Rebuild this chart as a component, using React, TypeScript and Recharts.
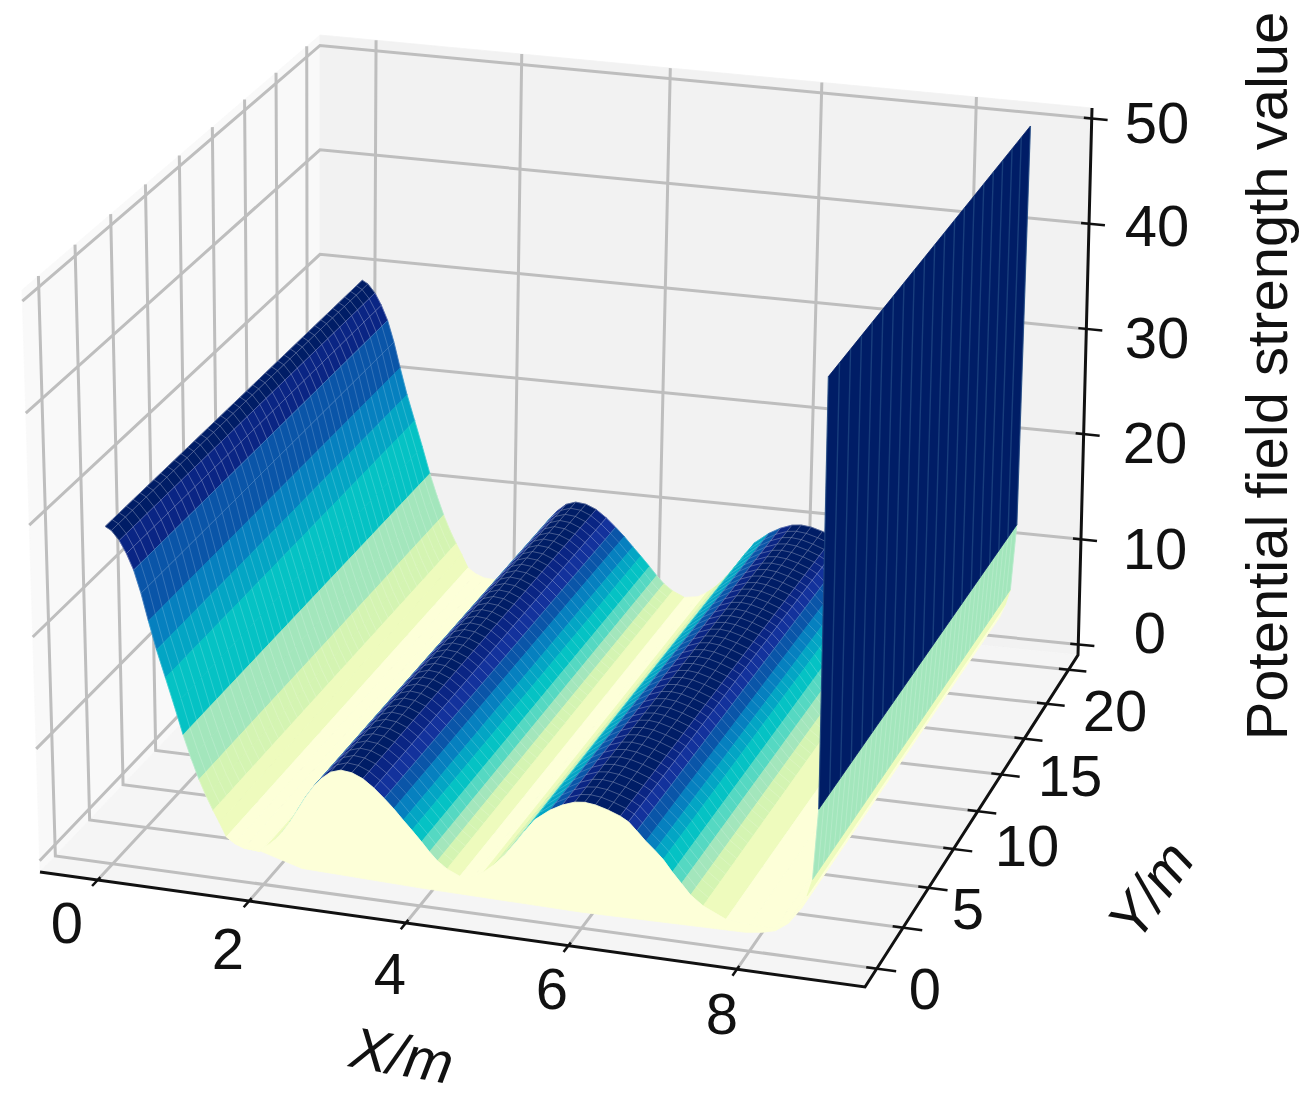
import { ComposedChart, Line, Scatter, XAxis, YAxis } from "recharts";

const WIDTH = 1310;
const HEIGHT = 1095;

const xGrid = [
  0, 0.08, 0.18, 0.27, 0.36, 0.45, 0.54, 0.64, 0.75, 0.86, 0.97, 1.07, 1.17, 1.26, 1.35, 1.43, 1.52, 1.63, 1.75,
  1.95, 2.05, 2.15, 2.25, 2.35, 2.45, 2.55, 2.65, 2.75, 2.87, 3.0,
  3.14, 3.28, 3.42, 3.55, 3.67, 3.79, 3.9, 4.02, 4.12, 4.22, 4.34, 4.5,
  4.68, 4.8, 4.92, 5.05, 5.18, 5.3, 5.42, 5.6, 5.75, 5.9, 6.02,
  6.15, 6.3, 6.45, 6.55, 6.65, 6.76, 6.87, 6.97, 7.08, 7.19, 7.3, 7.45, 7.72, 8.0, 8.3, 8.45, 8.6, 8.66, 8.72, 8.78, 8.82,
];
const zGrid = [
  29.2, 28.9, 28.1, 27, 25.6, 23.6, 21.2, 18.7, 16.3, 13.9, 11.4, 9.4, 7.6, 6.2, 5, 4, 2.8, 2.3, 2,
  1.9, 2.5, 3.1, 3.9, 4.9, 6.1, 7.3, 8.3, 9.1, 9.8, 10.1,
  10, 9.6, 8.9, 8.1, 7.3, 6.4, 5.6, 4.7, 3.9, 3.2, 2.6, 2.1,
  2.3, 2.8, 3.5, 4.5, 5.7, 6.9, 8, 9, 9.6, 10, 10.1,
  10, 9.7, 9.3, 8.9, 8.2, 7.4, 6.7, 6, 5, 4.1, 3.2, 2.4, 1.5, 1.3, 1.3, 2, 3.4, 4.5, 6, 12.2, 50,
];
const bandGrid = [
  11, 11, 10, 10, 8, 8, 7, 6, 5, 5, 3, 3, 2, 2, 1, 1, 0, 0, 0,
  0, 1, 2, 3, 4, 5, 6, 8, 10, 11, 11,
  11, 10, 9, 8, 7, 6, 5, 4, 3, 2, 1, 0,
  0, 1, 2, 3, 4, 5, 6, 8, 10, 11, 11,
  11, 11, 10, 9, 8, 7, 6, 5, 4, 3, 2, 1, 0, 0, 0, 0, 0, 1, 3, 11, 11,
];
const bandColors = [
  "#fdffd8", "#eefbbd", "#d4f4b2", "#a3e6bc", "#55d8c2", "#05c2c4",
  "#03a5c4", "#0680bf", "#0a55a8", "#13329c", "#0a2584", "#001d66",
];

// lower lip of the pale front face
const baseX = [1.52, 2.5, 4, 6, 7.95, 8.15, 8.3, 8.45, 8.6];
const baseZ = [2.8, 0.9, 0.6, 0.4, 0.6, 0.8, 1.1, 1.9, 3.4];

const Y_START = 0;
const Y_END = 20;
const meshY = [
  0, 0.5, 1, 1.5, 2, 2.5, 3, 3.5, 4, 4.5, 5, 5.5, 6, 6.5, 7, 7.5, 8, 8.5, 9, 9.5, 10,
  10.5, 11, 11.5, 12, 12.5, 13, 13.5, 14, 14.5, 15, 15.5, 16, 16.5, 17, 17.5, 18, 18.5, 19, 19.5, 20,
];

const xTicks = [0, 2, 4, 6, 8];
const yTicks = [0, 2.5, 5, 7.5, 10, 12.5, 15, 17.5, 20];
const zTicks = [0, 10, 20, 30, 40, 50];

const X_MIN = -0.78;
const X_MAX = 9.47;
const Y_MIN = -1.1;
const Y_MAX = 21.1;
const Z_MIN = -1;
const Z_MAX = 51;

type Pt = { px: number; py: number | null };

// box corners on the page: front left, front right, back right, back left
const floorCorners = [[40, 872], [865, 987], [1078, 655], [320, 578]];
const ceilingCorners = [[22, 290], [873, 387], [1092, 108], [320, 35]];

const quadMap = (q: number[][]) => {
  const [[x0, y0], [x1, y1], [x2, y2], [x3, y3]] = q;
  const dx1 = x1 - x2;
  const dx2 = x3 - x2;
  const sx = x0 - x1 + x2 - x3;
  const dy1 = y1 - y2;
  const dy2 = y3 - y2;
  const sy = y0 - y1 + y2 - y3;
  const den = dx1 * dy2 - dx2 * dy1;
  const g = (sx * dy2 - dx2 * sy) / den;
  const h = (dx1 * sy - sx * dy1) / den;
  return (u: number, v: number) => {
    const w = g * u + h * v + 1;
    return [
      ((x1 - x0 + g * x1) * u + (x3 - x0 + h * x3) * v + x0) / w,
      ((y1 - y0 + g * y1) * u + (y3 - y0 + h * y3) * v + y0) / w,
    ];
  };
};
const floorMap = quadMap(floorCorners);
const ceilingMap = quadMap(ceilingCorners);

const project = (x: number, y: number, z: number): Pt => {
  const u = (x - X_MIN) / (X_MAX - X_MIN);
  const v = (y - Y_MIN) / (Y_MAX - Y_MIN);
  const t = (z - Z_MIN) / (Z_MAX - Z_MIN);
  const a = floorMap(u, v);
  const b = ceilingMap(u, v);
  return { px: a[0] + (b[0] - a[0]) * t, py: a[1] + (b[1] - a[1]) * t };
};

type Poly = { pts: Pt[]; fill: string };
type Seg = { pts: Pt[]; stroke: string; width: number; opacity?: number };

const close = (pts: Pt[]) => [...pts, pts[0]];

const panes: Poly[] = [
  {
    fill: "#f9f9f9",
    pts: close([project(X_MIN, Y_MIN, Z_MIN), project(X_MIN, Y_MAX, Z_MIN), project(X_MIN, Y_MAX, Z_MAX), project(X_MIN, Y_MIN, Z_MAX)]),
  },
  {
    fill: "#f2f2f2",
    pts: close([project(X_MIN, Y_MAX, Z_MIN), project(X_MAX, Y_MAX, Z_MIN), project(X_MAX, Y_MAX, Z_MAX), project(X_MIN, Y_MAX, Z_MAX)]),
  },
  {
    fill: "#f5f5f5",
    pts: close([project(X_MIN, Y_MIN, Z_MIN), project(X_MAX, Y_MIN, Z_MIN), project(X_MAX, Y_MAX, Z_MIN), project(X_MIN, Y_MAX, Z_MIN)]),
  },
];

const GRID = "#bebebe";
const grid: Seg[] = [
  ...zTicks.map((z) => ({
    stroke: GRID,
    width: 3,
    pts: [project(X_MIN, Y_MIN, z), project(X_MIN, Y_MAX, z), project(X_MAX, Y_MAX, z)],
  })),
  ...xTicks.map((x) => ({
    stroke: GRID,
    width: 3,
    pts: [project(x, Y_MIN, Z_MIN), project(x, Y_MAX, Z_MIN), project(x, Y_MAX, Z_MAX)],
  })),
  ...yTicks.map((y) => ({
    stroke: GRID,
    width: 3,
    pts: [project(X_MAX, y, Z_MIN), project(X_MIN, y, Z_MIN), project(X_MIN, y, Z_MAX)],
  })),
];

const axes: Seg[] = [
  { stroke: "#111", width: 3, pts: [project(X_MIN, Y_MIN, Z_MIN), project(X_MAX, Y_MIN, Z_MIN), project(X_MAX, Y_MAX, Z_MIN), project(X_MAX, Y_MAX, Z_MAX)] },
  ...xTicks.map((x) => ({ stroke: "#111", width: 2.5, pts: [project(x, Y_MIN - 0.4, Z_MIN), project(x, Y_MIN + 0.2, Z_MIN)] })),
  ...yTicks.map((y) => ({ stroke: "#111", width: 2.5, pts: [project(X_MAX - 0.12, y, Z_MIN), project(X_MAX + 0.22, y, Z_MIN)] })),
  ...zTicks.map((z) => ({ stroke: "#111", width: 2.5, pts: [project(X_MAX - 0.1, Y_MAX, z), project(X_MAX + 0.2, Y_MAX, z)] })),
];

// one polygon per strip, left to right because the camera sits on the +x side
const strips: Poly[] = [];
const stripMesh: Seg[] = [];
for (let i = 0; i < xGrid.length - 1; i++) {
  const fill = bandColors[bandGrid[i]];
  strips.push({
    fill,
    pts: close([
      project(xGrid[i], Y_START, zGrid[i]),
      project(xGrid[i + 1], Y_START, zGrid[i + 1]),
      project(xGrid[i + 1], Y_END, zGrid[i + 1]),
      project(xGrid[i], Y_END, zGrid[i]),
    ]),
  });
  const wall = zGrid[i + 1] === 50;
  const pts: Pt[] = [];
  meshY.forEach((y, k) => {
    if (wall && k % 2) return;
    pts.push(project(xGrid[i], y, zGrid[i]), project(xGrid[i + 1], y, zGrid[i + 1]), { px: project(xGrid[i], y, zGrid[i]).px, py: null });
  });
  // the long mesh line, only shows up on the dark crests
  if (!wall && bandGrid[i] >= 8) {
    pts.push(project(xGrid[i], Y_START, zGrid[i]), project(xGrid[i], Y_END, zGrid[i]));
  }
  stripMesh.push({
    pts,
    stroke: wall ? "#4f8ab0" : "#ffffff",
    width: wall ? 1.4 : 0.9,
    opacity: wall ? 0.3 : bandGrid[i] < 2 ? 0 : bandGrid[i] > 8 ? 0.3 : 0.2,
  });
}

const faceTop: Pt[] = [];
xGrid.forEach((x, i) => {
  if (x >= 1.52 && x <= 8.6) faceTop.push(project(x, Y_START, zGrid[i]));
});
const faceBottom = baseX.map((x, i) => project(x, Y_START, baseZ[i])).reverse();
const frontFace: Poly = { fill: bandColors[0], pts: close([...faceTop, ...faceBottom]) };

const lastStrips = 4;

const zLabels = ["50", "40", "30", "20", "10", "0"];
const zLabelPos = [[1157, 122], [1157, 225], [1157, 337], [1155, 442], [1155, 548], [1150, 632]];
const xLabels = ["0", "2", "4", "6", "8"];
const xLabelPos = [[67, 922], [228, 948], [390, 973], [552, 988], [722, 1013]];
const yLabels = ["0", "5", "10", "15", "20"];
const yLabelPos = [[925, 988], [968, 908], [1027, 845], [1070, 775], [1115, 710]];

const textItems = [
  ...zLabels.map((text, i) => ({ text, px: zLabelPos[i][0], py: zLabelPos[i][1], rotate: 0, italic: false })),
  ...xLabels.map((text, i) => ({ text, px: xLabelPos[i][0], py: xLabelPos[i][1], rotate: 0, italic: false })),
  ...yLabels.map((text, i) => ({ text, px: yLabelPos[i][0], py: yLabelPos[i][1], rotate: 0, italic: false })),
  { text: "X/m", px: 402, py: 1055, rotate: 10, italic: true },
  { text: "Y/m", px: 1150, py: 890, rotate: -55, italic: true },
  { text: "Potential field strength value", px: 1266, py: 376, rotate: -90, italic: false },
];

const LabelShape = (props: any) => {
  const { cx, cy, payload } = props;
  return (
    <text
      x={cx}
      y={cy}
      textAnchor="middle"
      dominantBaseline="central"
      fontFamily="'Liberation Sans', Arial, sans-serif"
      fontSize={58}
      fontStyle={payload.italic ? "italic" : "normal"}
      fill="#111"
      transform={payload.rotate ? `rotate(${payload.rotate} ${cx} ${cy})` : undefined}
    >
      {payload.text}
    </text>
  );
};

const polyLine = (p: Poly, key: string) => (
  <Line
    key={key}
    data={p.pts}
    dataKey="py"
    type="linear"
    stroke={p.fill}
    strokeWidth={0.8}
    style={{ fill: p.fill }}
    dot={false}
    activeDot={false}
    legendType="none"
    isAnimationActive={false}
  />
);

const segLine = (s: Seg, key: string) => (
  <Line
    key={key}
    data={s.pts}
    dataKey="py"
    type="linear"
    stroke={s.stroke}
    strokeWidth={s.width}
    strokeOpacity={s.opacity ?? 1}
    dot={false}
    activeDot={false}
    legendType="none"
    isAnimationActive={false}
  />
);

export default function App() {
  const n = strips.length - lastStrips;
  return (
    <div style={{ position: "absolute", left: 0, top: 0, width: WIDTH, height: HEIGHT, background: "#fff" }}>
      <ComposedChart width={WIDTH} height={HEIGHT} margin={{ top: 0, right: 0, bottom: 0, left: 0 }}>
        <XAxis type="number" dataKey="px" domain={[0, WIDTH]} hide allowDataOverflow />
        <YAxis type="number" domain={[0, HEIGHT]} reversed hide allowDataOverflow />
        {panes.map((p, i) => polyLine(p, `pane${i}`))}
        {grid.map((s, i) => segLine(s, `grid${i}`))}
        {axes.map((s, i) => segLine(s, `axis${i}`))}
        {strips.slice(0, n).flatMap((p, i) => [polyLine(p, `strip${i}`), segLine(stripMesh[i], `mesh${i}`)])}
        {polyLine(frontFace, "front")}
        {strips.slice(n).flatMap((p, i) => [polyLine(p, `wall${i}`), segLine(stripMesh[n + i], `wallmesh${i}`)])}
        <Scatter data={textItems} dataKey="py" shape={LabelShape} isAnimationActive={false} />
      </ComposedChart>
    </div>
  );
}
